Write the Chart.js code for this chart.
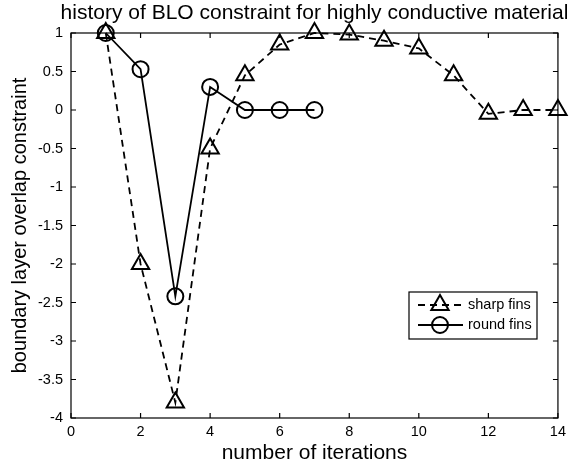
<!DOCTYPE html>
<html>
<head>
<meta charset="utf-8">
<script src="https://cdn.jsdelivr.net/npm/chart.js@4/dist/chart.umd.min.js"></script>
<style>
  html, body { margin: 0; padding: 0; background: #fff; }
  #wrap { width: 571px; height: 468px; }
</style>
</head>
<body>
<div id="wrap"><canvas id="myChart" width="571" height="468"></canvas></div>
<script>
const FONT = '"Liberation Sans", Arial, Helvetica, sans-serif';

const titleText = 'history of BLO constraint for highly conductive material';
const xTitle = 'number of iterations';
const yTitle = 'boundary layer overlap constraint';

const sharpIter = [1, 2, 3, 4, 5, 6, 7, 8, 9, 10, 11, 12, 13, 14];
const sharpFins = [1, -2, -3.8, -0.5, 0.45, 0.85, 1.0, 0.98, 0.9, 0.8, 0.45, -0.05, 0, 0];

const roundIter = [1, 2, 3, 4, 5, 6, 7];
const roundFins = [1, 0.53, -2.42, 0.3, 0, 0, 0];

const xTickValues = [0, 2, 4, 6, 8, 10, 12, 14];
const yTickValues = [-4, -3.5, -3, -2.5, -2, -1.5, -1, -0.5, 0, 0.5, 1];

const seriesNames = ['sharp fins', 'round fins'];

function toPoints(xs, ys) {
  return xs.map((x, i) => ({ x: x, y: ys[i] }));
}

const data = {
  datasets: [{
    label: seriesNames[0],
    data: toPoints(sharpIter, sharpFins),
    borderColor: '#000',
    borderWidth: 1.8,
    borderDash: [7, 5],
    pointStyle: 'triangle',
    pointRadius: 10,
    pointBorderWidth: 2,
    pointBorderColor: '#000',
    pointBackgroundColor: 'rgba(0,0,0,0)',
    tension: 0,
    clip: false
  }, {
    label: seriesNames[1],
    data: toPoints(roundIter, roundFins),
    borderColor: '#000',
    borderWidth: 1.8,
    pointStyle: 'circle',
    pointRadius: 8,
    pointBorderWidth: 2,
    pointBorderColor: '#000',
    pointBackgroundColor: 'rgba(0,0,0,0)',
    tension: 0,
    clip: false
  }]
};

// box, inward ticks, title and legend in matlab style
const matlabFrame = {
  id: 'matlabFrame',
  afterDraw(chart) {
    const ctx = chart.ctx;
    const a = chart.chartArea;
    const xs = chart.scales.x;
    const ys = chart.scales.y;
    const tl = 5;
    ctx.save();
    ctx.strokeStyle = '#000';
    ctx.lineWidth = 1.2;
    ctx.strokeRect(a.left, a.top, a.right - a.left, a.bottom - a.top);
    ctx.beginPath();
    xTickValues.forEach(v => {
      const px = xs.getPixelForValue(v);
      ctx.moveTo(px, a.bottom); ctx.lineTo(px, a.bottom - tl);
      ctx.moveTo(px, a.top); ctx.lineTo(px, a.top + tl);
    });
    yTickValues.forEach(v => {
      const py = ys.getPixelForValue(v);
      ctx.moveTo(a.left, py); ctx.lineTo(a.left + tl, py);
      ctx.moveTo(a.right, py); ctx.lineTo(a.right - tl, py);
    });
    ctx.stroke();

    // title
    ctx.fillStyle = '#000';
    ctx.font = '21px ' + FONT;
    ctx.textAlign = 'center';
    ctx.textBaseline = 'middle';
    ctx.fillText(titleText, (a.left + a.right) / 2, 13);

    // legend
    const lx = 409, ly = 292, lw = 128, lh = 47;
    ctx.fillStyle = '#fff';
    ctx.fillRect(lx, ly, lw, lh);
    ctx.lineWidth = 1.2;
    ctx.strokeRect(lx, ly, lw, lh);
    const rows = [305, 325];
    chart.data.datasets.forEach((ds, i) => {
      const y = rows[i];
      ctx.save();
      ctx.strokeStyle = ds.borderColor;
      ctx.lineWidth = ds.borderWidth;
      ctx.setLineDash(ds.borderDash || []);
      ctx.beginPath();
      ctx.moveTo(418, y); ctx.lineTo(463, y);
      ctx.stroke();
      ctx.restore();
      ctx.save();
      ctx.strokeStyle = '#000';
      ctx.fillStyle = 'rgba(0,0,0,0)';
      ctx.lineWidth = ds.pointBorderWidth;
      Chart.helpers.drawPoint(ctx, {
        pointStyle: ds.pointStyle,
        radius: ds.pointRadius,
        rotation: 0,
        borderWidth: ds.pointBorderWidth
      }, 440, y);
      ctx.restore();
      ctx.fillStyle = '#000';
      ctx.font = '14.5px ' + FONT;
      ctx.textAlign = 'left';
      ctx.textBaseline = 'middle';
      ctx.fillText(ds.label, 468, y);
    });
    ctx.restore();
  }
};

const config = {
  type: 'line',
  data: data,
  options: {
    responsive: false,
    animation: false,
    layout: {
      padding: { top: 33, right: 12, left: 0, bottom: 0 }
    },
    plugins: {
      legend: { display: false },
      tooltip: { enabled: false },
      title: { display: false }
    },
    scales: {
      x: {
        type: 'linear',
        min: 0,
        max: 14,
        afterBuildTicks: (scale) => { scale.ticks = xTickValues.map(v => ({ value: v })); },
        afterFit: (scale) => { scale.height = 50; },
        grid: { display: false, drawTicks: false },
        border: { display: false },
        ticks: {
          color: '#000',
          padding: 5,
          font: { family: FONT, size: 14.5 },
          callback: (v) => String(v)
        },
        title: {
          display: true,
          text: xTitle,
          color: '#000',
          font: { family: FONT, size: 21 },
          padding: { top: 0, bottom: 2 }
        }
      },
      y: {
        type: 'linear',
        min: -4,
        max: 1,
        afterBuildTicks: (scale) => { scale.ticks = yTickValues.map(v => ({ value: v })); },
        afterFit: (scale) => { scale.width = 71; },
        grid: { display: false, drawTicks: false },
        border: { display: false },
        ticks: {
          color: '#000',
          padding: 8,
          font: { family: FONT, size: 14.5 },
          callback: (v) => String(v)
        },
        title: {
          display: true,
          text: yTitle,
          color: '#000',
          font: { family: FONT, size: 20 },
          padding: { top: 8, bottom: 0 }
        }
      }
    }
  },
  plugins: [matlabFrame]
};

const myChart = new Chart(document.getElementById('myChart').getContext('2d'), config);
</script>
</body>
</html>
